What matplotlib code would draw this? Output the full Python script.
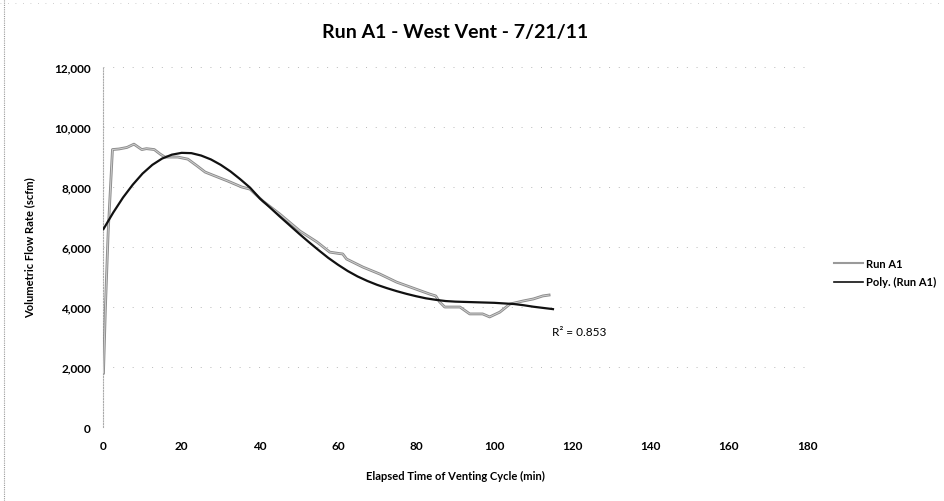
import matplotlib
matplotlib.use("Agg")
import matplotlib.pyplot as plt
from matplotlib.lines import Line2D
from matplotlib.ticker import FuncFormatter

plt.rcParams['font.family'] = ['Lato', 'DejaVu Sans']

run_t = [0, 0.5, 1.2, 1.8, 2.3, 4, 6, 7.8, 9.8, 11, 13, 14.5, 15.7, 19, 21.6, 24, 26, 28.5,
         31.8, 35.4, 37.5, 40.8, 45.1, 50.3, 54.6, 57.9, 60.5, 61.2, 62.2, 66.4, 70.7, 75,
         78.4, 83.5, 85, 86, 87.3, 91.2, 93.7, 97, 98.8, 101.4, 104, 107.3, 110, 112.4, 114]
run_q = [1800, 4000, 6500, 8000, 9250, 9270, 9320, 9430, 9250, 9280, 9250, 9100, 9000, 9000,
         8930, 8700, 8500, 8370, 8200, 8000, 7930, 7530, 7100, 6530, 6170, 5830, 5780, 5770,
         5600, 5330, 5100, 4830, 4670, 4430, 4370, 4170, 4000, 4000, 3770, 3770, 3670, 3830,
         4100, 4200, 4270, 4370, 4400]

# polynomial trendline
poly_t = [0, 2.5, 5, 7.5, 10, 12.5, 15, 17.5, 20, 22.5, 25, 27.5, 30, 32.5, 35, 37.5,
          40, 42.5, 45, 47.5, 50, 52.5, 55, 57.5, 60, 62.5, 65, 67.5, 70, 72.5, 75, 77.5,
          80, 82.5, 85, 87.5, 90, 92.5, 95, 97.5, 100, 102.5, 105, 107.5, 110, 112.5, 115]
poly_q = [6600, 7150, 7650, 8080, 8450, 8740, 8950, 9080, 9140, 9130, 9050, 8920, 8740,
          8520, 8260, 7980, 7620, 7330, 7030, 6740, 6450, 6170, 5900, 5640, 5410, 5200,
          5020, 4870, 4740, 4630, 4530, 4440, 4360, 4290, 4240, 4200, 4180, 4170, 4160,
          4150, 4140, 4120, 4100, 4060, 4010, 3970, 3930]

r2_label = "R² = 0.853"
title = "Run A1 - West Vent - 7/21/11"

fig = plt.figure(figsize=(9.45, 5.02), dpi=100)
ax = fig.add_axes([0.1095, 0.1474, 0.7445, 0.717])

ax.plot(run_t, run_q, color='#8a8a8a', lw=2.0, label='Run A1', zorder=3)
ax.plot(run_t, run_q, color='#cfcfcf', lw=0.7, zorder=4)
ax.plot(poly_t, poly_q, color='#111111', lw=1.6, label='Poly. (Run A1)', zorder=5)

ax.set_xlim(0, 180)
ax.set_ylim(0, 12000)
ax.set_xticks(range(0, 181, 20))
ax.set_yticks(range(0, 12001, 2000))
ax.yaxis.set_major_formatter(FuncFormatter(lambda v, p: f"{int(v):,}"))
ax.tick_params(length=0, labelsize=8.5, pad=9)
for lab in ax.get_xticklabels() + ax.get_yticklabels():
    lab.set_fontweight('bold')

ax.grid(axis='y', color='#b8b8b8', lw=0.7, linestyle=(0, (1, 9)))
for s in ['top', 'right', 'bottom']:
    ax.spines[s].set_visible(False)
ax.spines['left'].set_color('#aaaaaa')
ax.spines['left'].set_linestyle((0, (1, 1.5)))
ax.spines['left'].set_linewidth(0.8)

ax.set_title(title, fontsize=14, fontweight='bold', pad=22)
ax.set_xlabel("Elapsed Time of Venting Cycle (min)", fontsize=8, fontweight='bold', labelpad=14)
ax.set_ylabel("Volumetric Flow Rate (scfm)", fontsize=8, fontweight='bold', labelpad=14)

ax.text(114.7, 3200, r2_label, fontsize=8.5, va='center', ha='left')

handles = [Line2D([], [], color='#9a9a9a', lw=1.5), Line2D([], [], color='#111111', lw=1.2)]
leg = fig.legend(handles, ['Run A1', 'Poly. (Run A1)'], loc='center left',
                 bbox_to_anchor=(0.872, 0.455), frameon=False, fontsize=8,
                 handlelength=2.6, handletextpad=0.3, labelspacing=0.7)
for t in leg.get_texts():
    t.set_fontweight('bold')

# scanned page border
fig.add_artist(Line2D([0.004, 0.004], [0.0, 1.0], transform=fig.transFigure,
                      color='#9a9a9a', lw=0.8, linestyle=(0, (1, 1))))
fig.add_artist(Line2D([0.0, 1.0], [0.992, 0.992], transform=fig.transFigure,
                      color='#c0c0c0', lw=0.6, linestyle=(0, (1, 8))))

fig.savefig("out.png", dpi=100)
